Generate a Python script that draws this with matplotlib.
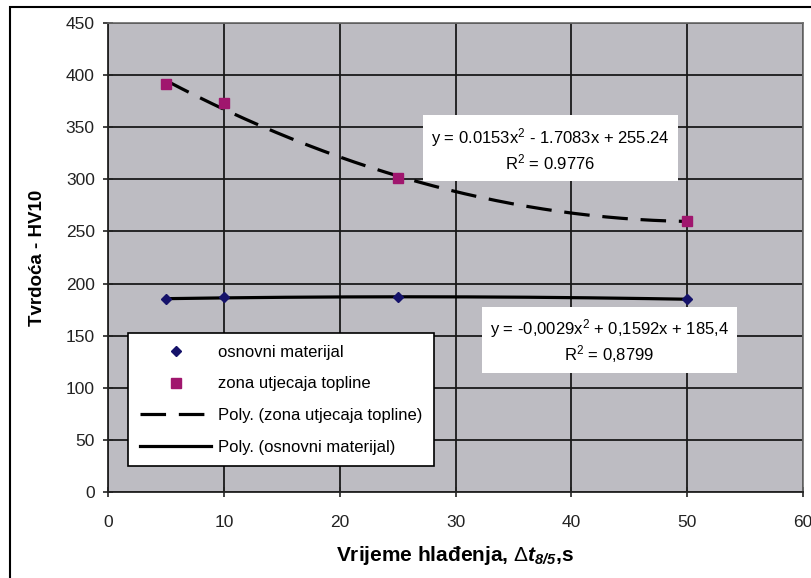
import numpy as np
import matplotlib
matplotlib.use("Agg")
import matplotlib.pyplot as plt
from matplotlib.patches import Rectangle

plt.rcParams['font.family'] = ['Liberation Sans', 'DejaVu Sans']
plt.rcParams['mathtext.fontset'] = 'custom'
plt.rcParams['mathtext.rm'] = 'Liberation Sans'
plt.rcParams['mathtext.it'] = 'Liberation Sans:italic'
plt.rcParams['mathtext.bf'] = 'Liberation Sans:bold'
try:
    plt.rcParams['mathtext.bfit'] = 'Liberation Sans:italic:bold'
except KeyError:
    pass

# data
t_cool = [5, 10, 25, 50]
osnovni = [185, 187, 187, 185]
zona = [391, 373, 301, 260]
xticks = [0, 10, 20, 30, 40, 50, 60]
yticks = [0, 50, 100, 150, 200, 250, 300, 350, 400, 450]
eq_zona = "y = 0.0153x$^2$ - 1.7083x + 255.24\nR$^2$ = 0.9776"
eq_osn = "y = -0,0029x$^2$ + 0,1592x + 185,4\nR$^2$ = 0,8799"

fig = plt.figure(figsize=(8.11, 5.78), dpi=100)
fig.patch.set_facecolor('white')
ax = fig.add_axes([108/811, 86/578, 695/811, 469/578])
ax.set_facecolor('#bdbcc2')

# figure frame
fig.add_artist(Rectangle((10/811, -0.05), 1.0, (578-7)/578 + 0.05, transform=fig.transFigure,
                         fill=False, edgecolor='black', linewidth=1.5))

# trendlines
xs = np.linspace(min(t_cool), max(t_cool), 200)
pz = np.polyfit(t_cool, zona, 2)
po = np.polyfit(t_cool, osnovni, 2)
ax.plot(t_cool, osnovni, linestyle='none', marker='D', markersize=5.5, color='#15126a',
        label='osnovni materijal', zorder=4)
ax.plot(t_cool, zona, linestyle='none', marker='s', markersize=7, color='#a0166e',
        label='zona utjecaja topline', zorder=4)
ax.plot(xs, np.polyval(pz, xs), color='black', linewidth=2.3, dashes=(8, 4),
        label='Poly. (zona utjecaja topline)', zorder=3)
ax.plot(xs, np.polyval(po, xs), color='black', linewidth=2.3,
        label='Poly. (osnovni materijal)', zorder=3)

ax.set_xlim(0, 60)
ax.set_ylim(0, 450)
ax.set_xticks(xticks)
ax.set_yticks(yticks)
ax.grid(True, color='#1a1a1a', linewidth=1.3)
ax.set_axisbelow(True)
for s in ['top', 'right']:
    ax.spines[s].set_color('#6a6a6a')
    ax.spines[s].set_linewidth(1.2)
for s in ['left', 'bottom']:
    ax.spines[s].set_color('#222222')
    ax.spines[s].set_linewidth(1.3)
ax.tick_params(axis='both', direction='inout', length=7, width=1.2, labelsize=12.5,
               colors='#222222')
ax.tick_params(axis='x', pad=13)
ax.tick_params(axis='y', pad=6)

ax.set_xlabel(r"Vrijeme hlađenja, $\Delta\mathbfit{t}_{\mathbfit{8/5}}$,s", fontsize=15,
              fontweight='bold', labelpad=10)
ax.set_ylabel("Tvrdoća - HV10", fontsize=13.5, fontweight='bold', labelpad=14)

bbox = dict(boxstyle='square,pad=0.5', facecolor='white', edgecolor='none')
ax.text(38.2, 329, eq_zona, ha='center', va='center', fontsize=12, bbox=bbox,
        linespacing=1.2, zorder=5)
ax.text(43.3, 145, eq_osn, ha='center', va='center', fontsize=12, bbox=bbox,
        linespacing=1.2, zorder=5)

leg = ax.legend(loc='upper left', bbox_to_anchor=(20/695, (492-333)/469), fontsize=12,
                frameon=True, fancybox=False, edgecolor='black', framealpha=1,
                handlelength=4.3, borderpad=0.7, labelspacing=1.0, handletextpad=0.4,
                borderaxespad=0)
leg.get_frame().set_linewidth(1.2)
leg.set_zorder(6)

fig.savefig('out.png', dpi=100)
